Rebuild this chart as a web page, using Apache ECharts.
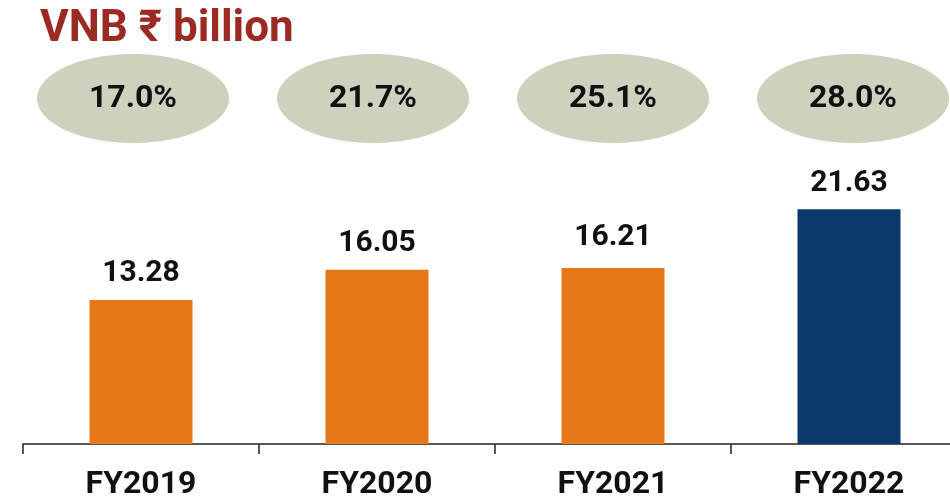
<!DOCTYPE html>
<html>
<head>
<meta charset="utf-8">
<script src="https://cdn.jsdelivr.net/npm/echarts@6/dist/echarts.min.js"></script>
<style>
  html, body { margin: 0; padding: 0; background: #fff; }
  #chart { width: 950px; height: 499px; }
</style>
</head>
<body>
<div id="chart"></div>
<script>
const years = ['FY2019', 'FY2020', 'FY2021', 'FY2022'];
const vnb = [13.28, 16.05, 16.21, 21.63];
const margins = [17.0, 21.7, 25.1, 28.0];
const barColors = ['#e67818', '#e67818', '#e67818', '#0a3a6b'];

const font = 'Roboto, "Liberation Sans", Arial, sans-serif';
// ellipse drawn as a path symbol so it stretches to symbolSize
const ellipse = 'path://M0,50 C0,22.4 22.4,0 50,0 C77.6,0 100,22.4 100,50 C100,77.6 77.6,100 50,100 C22.4,100 0,77.6 0,50 Z';

const chart = echarts.init(document.getElementById('chart'), null, { renderer: 'canvas' });
chart.setOption({
  animation: false,
  backgroundColor: '#fff',
  title: {
    text: 'VNB ₹ billion',
    left: 35, top: 3,
    textStyle: { color: '#9b2a22', fontSize: 44, fontWeight: 'bold', fontFamily: font }
  },
  grid: [
    { left: 23, width: 944, top: 118.5, bottom: 55, outerBoundsMode: 'none' },
    { left: 13, width: 960, top: 54, height: 89, outerBoundsMode: 'none' }
  ],
  xAxis: [
    {
      type: 'category', gridIndex: 0, data: years,
      axisLine: { lineStyle: { color: '#222', width: 1.5 } },
      axisTick: { show: true, length: 10, lineStyle: { color: '#222', width: 1.5 } },
      axisLabel: { color: '#111', fontSize: 32, fontWeight: 'bold', fontFamily: font, margin: 25 }
    },
    { type: 'category', gridIndex: 1, data: years, show: false }
  ],
  yAxis: [
    { type: 'value', gridIndex: 0, min: 0, max: 30, show: false },
    { type: 'value', gridIndex: 1, min: 0, max: 1, show: false }
  ],
  series: [
    {
      type: 'bar', xAxisIndex: 0, yAxisIndex: 0,
      barWidth: 103,
      data: vnb.map((v, i) => ({
        value: v,
        itemStyle: { color: barColors[i] },
        label: { distance: i === 2 ? 16 : 11 }
      })),
      label: {
        show: true, position: 'top',
        color: '#111', fontSize: 30, fontWeight: 'bold', fontFamily: font,
        formatter: p => p.value.toFixed(2)
      }
    },
    {
      type: 'scatter', xAxisIndex: 1, yAxisIndex: 1,
      symbol: ellipse, symbolSize: [192, 89],
      itemStyle: { color: '#d1cfbd', opacity: 1 },
      data: margins.map(() => 0.5),
      label: {
        show: true, position: 'inside',
        color: '#111', fontSize: 32, fontWeight: 'bold', fontFamily: font,
        formatter: p => margins[p.dataIndex].toFixed(1) + '%'
      },
      silent: true
    }
  ]
});
</script>
</body>
</html>
